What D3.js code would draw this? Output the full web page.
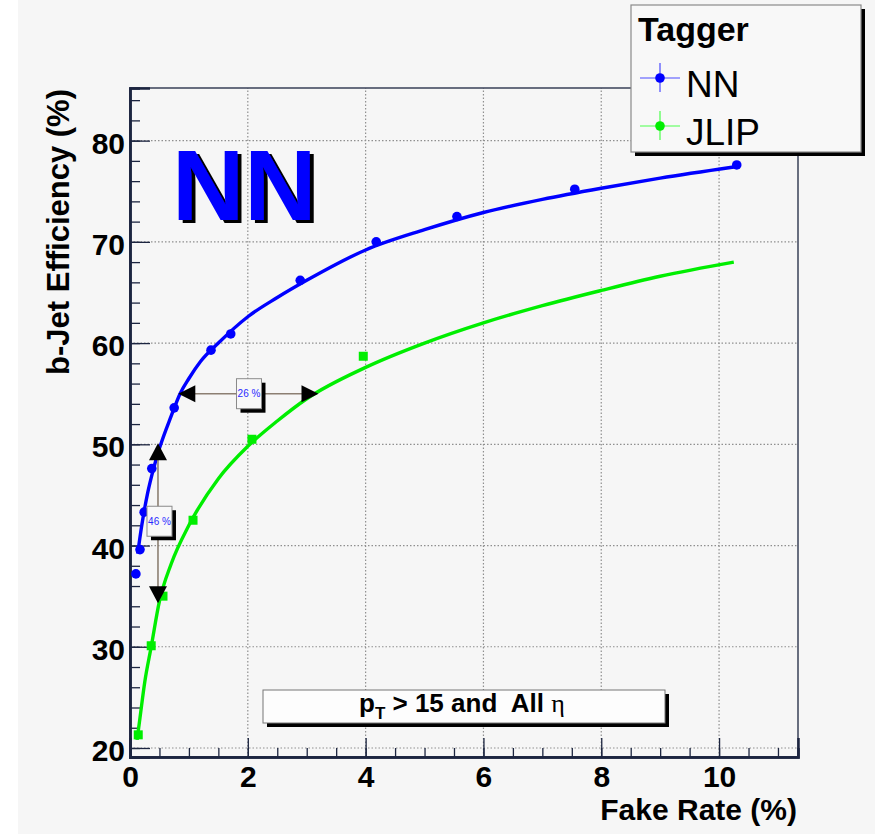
<!DOCTYPE html>
<html>
<head>
<meta charset="utf-8">
<script src="https://cdn.jsdelivr.net/npm/d3@7"></script>
<style>
  html, body { margin: 0; padding: 0; background: #ffffff; }
  svg { display: block; font-family: "Liberation Sans", Arial, Helvetica, sans-serif; }
  text { white-space: pre; }
</style>
</head>
<body>
<svg id="chart" width="875" height="834"></svg>
<script>
// ---------- data ----------
const nnX   = [0.10, 0.17, 0.24, 0.37, 0.75, 1.375, 1.71, 2.89, 4.18, 5.55, 7.55, 10.30];
const nnY   = [37.2, 39.6, 43.3, 47.6, 53.6, 59.3, 60.9, 66.2, 70.0, 72.5, 75.2, 77.6];
const jlipX = [0.14, 0.36, 0.56, 1.07, 2.07, 3.96];
const jlipY = [21.3, 30.1, 35.0, 42.5, 50.5, 58.7];

// fitted curves
const nnFitX   = [0.13, 0.20, 0.30, 0.40, 0.50, 0.70, 0.85, 1.0, 1.2, 1.5, 2.0, 2.5, 3.0, 4.0, 5.0, 6.0, 7.0, 8.0, 9.0, 10.25];
const nnFitY   = [39.2, 42.0, 45.2, 47.6, 49.6, 52.8, 55.0, 56.5, 58.2, 60.0, 62.6, 64.5, 66.2, 69.2, 71.2, 72.9, 74.2, 75.3, 76.3, 77.4];
const jlipFitX = [0.12, 0.17, 0.25, 0.36, 0.50, 0.70, 1.0, 1.5, 2.0, 2.5, 3.0, 4.0, 5.0, 6.0, 7.0, 8.0, 9.0, 10.25];
const jlipFitY = [20.8, 23.0, 26.5, 30.0, 34.5, 38.2, 42.0, 46.6, 49.8, 52.3, 54.5, 57.6, 60.0, 62.0, 63.7, 65.2, 66.6, 68.0];

const xTicks = [0, 2, 4, 6, 8, 10];
const yTicks = [20, 30, 40, 50, 60, 70, 80];
const seriesNames = ["NN", "JLIP"];
const seriesColors = ["#0000ff", "#00ee00"];

// annotations (data units)
const hArrow = {y: 55, x0: 0.82, x1: 3.20, label: "26 %", lx: 2.02};
const vArrow = {x: 0.475, y0: 34.3, y1: 50.1, label: "46 %", ly: 42.4};

// ---------- layout ----------
const svg = d3.select("#chart");
const L = 130, R = 798, T = 88, B = 757;
const x = d3.scaleLinear().domain([0, 11.34]).range([L, R]);
const y = d3.scaleLinear().domain([19.11, 85.2]).range([B, T]);
const axisColor = "#1c2540";

const defs = svg.append("defs");
const f = defs.append("filter").attr("id", "shadow").attr("x", "-10%").attr("y", "-10%").attr("width", "130%").attr("height", "130%");
f.append("feOffset").attr("in", "SourceAlpha").attr("dx", 4).attr("dy", 3).attr("result", "off");
const fm = f.append("feMerge");
fm.append("feMergeNode").attr("in", "off");
fm.append("feMergeNode").attr("in", "SourceGraphic");

svg.append("rect").attr("x", 18).attr("y", 0).attr("width", 857).attr("height", 834).attr("fill", "#f6f6f6");

// grid
const g = svg.append("g");
g.selectAll(".gx").data(xTicks.filter(d => d > 0)).join("line")
  .attr("x1", d => x(d)).attr("x2", d => x(d)).attr("y1", B).attr("y2", T)
  .attr("stroke", "#8f8f8f").attr("stroke-width", 1.2).attr("stroke-dasharray", "1.5,2");
g.selectAll(".gy").data(yTicks).join("line")
  .attr("y1", d => y(d)).attr("y2", d => y(d)).attr("x1", L).attr("x2", R)
  .attr("stroke", "#8f8f8f").attr("stroke-width", 1.2).attr("stroke-dasharray", "1.5,2");

// frame
svg.append("rect").attr("x", L).attr("y", T).attr("width", R - L).attr("height", B - T)
  .attr("fill", "none").attr("stroke", axisColor).attr("stroke-width", 1.3);

// axes
const xMinor = d3.range(0, 11.34, 0.5);
const yMinor = d3.range(20, 85.2, 2);
const ax = svg.append("g").attr("transform", `translate(0,${B})`);
ax.call(d3.axisBottom(x).tickValues(xMinor).tickSize(-9).tickFormat(""));
ax.append("g").call(d3.axisBottom(x).tickValues(xTicks).tickSize(-19).tickPadding(9).tickFormat(d3.format("d")));
ax.selectAll(".domain").attr("stroke", axisColor).attr("stroke-width", 2.5);
ax.selectAll(".tick line").attr("stroke", axisColor).attr("stroke-width", 1.3);
ax.selectAll("text").attr("font-size", 30).attr("font-weight", "bold").attr("fill", "#000")
  .attr("font-family", "Liberation Sans, Arial, sans-serif");

const ay = svg.append("g").attr("transform", `translate(${L},0)`);
ay.call(d3.axisLeft(y).tickValues(yMinor).tickSize(-10).tickFormat(""));
ay.append("g").call(d3.axisLeft(y).tickValues(yTicks).tickSize(-20).tickPadding(5).tickFormat(d3.format("d")));
ay.selectAll(".domain").attr("stroke", axisColor).attr("stroke-width", 2.5);
ay.selectAll(".tick line").attr("stroke", axisColor).attr("stroke-width", 1.3);
ay.selectAll("text").attr("font-size", 30).attr("font-weight", "bold").attr("fill", "#000")
  .attr("dy", "0.42em").attr("font-family", "Liberation Sans, Arial, sans-serif");

// axis titles
svg.append("text").attr("x", 797).attr("y", 820).attr("text-anchor", "end")
  .attr("font-size", 30).attr("font-weight", "bold").text("Fake Rate (%)");
svg.append("text").attr("transform", "translate(69,89) rotate(-90)").attr("text-anchor", "end")
  .attr("font-size", 31).attr("font-weight", "bold").text("b-Jet Efficiency (%)");

// fit curves
const line = d3.line().x(d => x(d[0])).y(d => y(d[1])).curve(d3.curveMonotoneX);
svg.append("path").datum(nnFitX.map((v, i) => [v, nnFitY[i]]))
  .attr("d", line).attr("fill", "none").attr("stroke", seriesColors[0]).attr("stroke-width", 3.4);
svg.append("path").datum(jlipFitX.map((v, i) => [v, jlipFitY[i]]))
  .attr("d", line).attr("fill", "none").attr("stroke", seriesColors[1]).attr("stroke-width", 3.4);

// points
svg.selectAll(".nnp").data(nnX.map((v, i) => [v, nnY[i]])).join("circle")
  .attr("cx", d => x(d[0])).attr("cy", d => y(d[1])).attr("r", 4.8).attr("fill", seriesColors[0]);
svg.selectAll(".jlp").data(jlipX.map((v, i) => [v, jlipY[i]])).join("rect")
  .attr("x", d => x(d[0]) - 4.5).attr("y", d => y(d[1]) - 4.5).attr("width", 9).attr("height", 9)
  .attr("fill", seriesColors[1]);

// annotation boxes helper
function labelBox(cx, cy, w, h, txt) {
  svg.append("rect").attr("x", cx - w / 2 + 4).attr("y", cy - h / 2 + 4).attr("width", w).attr("height", h).attr("fill", "#000");
  svg.append("rect").attr("x", cx - w / 2).attr("y", cy - h / 2).attr("width", w).attr("height", h)
    .attr("fill", "#f8f8f8").attr("stroke", "#8a8a8a").attr("stroke-width", 1);
  svg.append("text").attr("x", cx).attr("y", cy + 3.5).attr("text-anchor", "middle")
    .attr("font-size", 10).attr("fill", "#2a2aff").text(txt);
}

// horizontal arrow
{
  const yy = y(hArrow.y), xa = x(hArrow.x0), xb = x(hArrow.x1);
  svg.append("line").attr("x1", xa + 16).attr("x2", xb - 16).attr("y1", yy).attr("y2", yy)
    .attr("stroke", "#8c7f72").attr("stroke-width", 1.6);
  svg.append("path").attr("d", `M${xa},${yy} L${xa + 17},${yy - 8.5} L${xa + 17},${yy + 8.5} Z`).attr("fill", "#000");
  svg.append("path").attr("d", `M${xb},${yy} L${xb - 17},${yy - 8.5} L${xb - 17},${yy + 8.5} Z`).attr("fill", "#000");
  labelBox(x(hArrow.lx), yy, 25, 30, hArrow.label);
}
// vertical arrow
{
  const xx = x(vArrow.x), ya = y(vArrow.y0), yb = y(vArrow.y1);
  svg.append("line").attr("x1", xx).attr("x2", xx).attr("y1", yb + 16).attr("y2", ya - 16)
    .attr("stroke", "#8c7f72").attr("stroke-width", 1.6);
  svg.append("path").attr("d", `M${xx},${yb} L${xx - 9},${yb + 17} L${xx + 9},${yb + 17} Z`).attr("fill", "#000");
  svg.append("path").attr("d", `M${xx},${ya} L${xx - 9},${ya - 17} L${xx + 9},${ya - 17} Z`).attr("fill", "#000");
  labelBox(xx + 1.5, y(vArrow.ly), 25, 30, vArrow.label);
}

// big "NN" title with drop shadow
svg.append("text").attr("x", 172).attr("y", 220).attr("font-size", 100).attr("font-weight", "bold")
  .attr("fill", "#0000ff").attr("filter", "url(#shadow)").text("NN");

// pT label box
svg.append("rect").attr("x", 267).attr("y", 694).attr("width", 402).attr("height", 33).attr("fill", "#000");
svg.append("rect").attr("x", 263).attr("y", 690).attr("width", 402).attr("height", 33)
  .attr("fill", "#fdfdfd").attr("stroke", "#777").attr("stroke-width", 1);
{
  const t = svg.append("text").attr("x", 359).attr("y", 712).attr("font-size", 26).attr("font-weight", "bold");
  t.append("tspan").text("p");
  t.append("tspan").attr("font-size", 17).attr("dy", 7).text("T");
  t.append("tspan").attr("dy", -7).text(" > 15 and  All ");
  t.append("tspan").attr("font-weight", "normal").attr("font-family", "Liberation Serif, Times New Roman, serif").text("\u03B7");
}

// legend
const lg = svg.append("g");
lg.append("rect").attr("x", 635).attr("y", 9).attr("width", 230).attr("height", 147).attr("fill", "#000");
lg.append("rect").attr("x", 631).attr("y", 5).attr("width", 230).attr("height", 147)
  .attr("fill", "#f8f8f8").attr("stroke", "#8a8a8a").attr("stroke-width", 1.2);
lg.append("text").attr("x", 638).attr("y", 41).attr("font-size", 34).attr("font-weight", "bold").text("Tagger");
const legY = [78, 126];
const legLine = ["#4a4aff", "#4aff4a"];
seriesNames.forEach((name, i) => {
  const cy = legY[i];
  lg.append("line").attr("x1", 640).attr("x2", 680).attr("y1", cy).attr("y2", cy).attr("stroke", legLine[i]).attr("stroke-width", 1.2);
  lg.append("line").attr("x1", 660).attr("x2", 660).attr("y1", cy - 15).attr("y2", cy + 14).attr("stroke", legLine[i]).attr("stroke-width", 1.2);
  lg.append("circle").attr("cx", 660).attr("cy", cy).attr("r", 4.8).attr("fill", seriesColors[i]);
  lg.append("text").attr("x", 686).attr("y", cy + 19).attr("font-size", 37).attr("fill", "#000").text(name);
});
</script>
</body>
</html>
